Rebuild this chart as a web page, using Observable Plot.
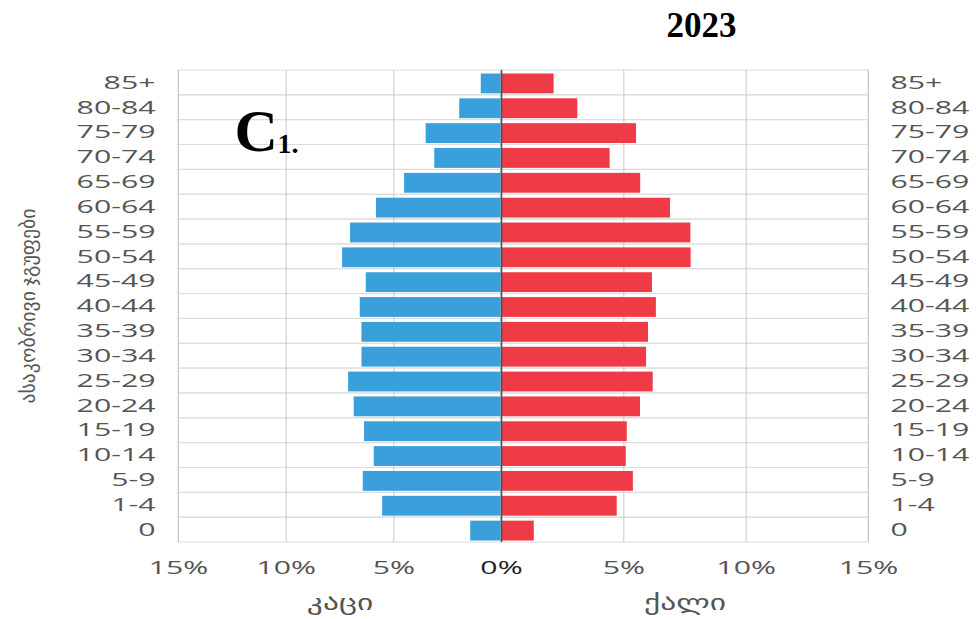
<!DOCTYPE html>
<html><head><meta charset="utf-8">
<script src="https://cdn.jsdelivr.net/npm/d3@7"></script>
<script src="https://cdn.jsdelivr.net/npm/@observablehq/plot@0.6"></script>
<style>
body{margin:0;background:#fff;}
#chart{position:relative;width:976px;height:619px;}
#chart svg{position:absolute;left:0;top:0;}
</style>
</head><body><div id="chart"></div>
<script>
const ageGroups = ["85+","80-84","75-79","70-74","65-69","60-64","55-59","50-54","45-49","40-44","35-39","30-34","25-29","20-24","15-19","10-14","5-9","1-4","0"];
const malePct   = [0.94,1.94,3.50,3.10,4.50,5.81,7.01,7.38,6.28,6.56,6.48,6.48,7.10,6.84,6.36,5.91,6.42,5.52,1.43];
const femalePct = [2.15,3.12,5.52,4.44,5.69,6.91,7.74,7.75,6.17,6.33,6.01,5.93,6.20,5.68,5.14,5.10,5.39,4.73,1.34];
const leftTicks = [-15,-10,-5,0];
const rightTicks = [5,10,15];
const sideLabels = ["კაცი","ქალი"];
const yTitle = "ასაკობრივი ჯგუფები";
const titleText = "2023";
const markC = "C";
const markSub = "1.";

const men = ageGroups.map((a,i)=>({age:a, v:malePct[i]}));
const women = ageGroups.map((a,i)=>({age:a, v:femalePct[i]}));

const common = {
  width: 976, height: 619,
  marginLeft: 178, marginRight: 108, marginTop: 70, marginBottom: 77,
  style: {fontFamily: "'Open Sans', 'DejaVu Sans', sans-serif", fontSize: "18px", color: "#555", background: "transparent"},
  y: {domain: ageGroups, padding: 0, round: false, label: null}
};
const serif = "'Liberation Serif', 'DejaVu Serif', serif";

const leftPlot = Plot.plot({
  ...common,
  x: {domain: [-15, 0], range: [178, 501], label: null},
  marks: [
    Plot.barX(ageGroups, {x1: -15, x2: 0, y: d => d, fill: "none", stroke: "#dcdcdc"}),
    Plot.ruleX(leftTicks.filter(d => d !== 0), {stroke: "#c9c9c9"}),
    Plot.barX(men, {x1: 0, x2: d => -d.v, y: "age", fill: "#3aa0db", insetTop: 3.5, insetBottom: 1.5}),
    Plot.axisY({anchor: "left", tickSize: 0, tickPadding: 23, label: null}),
    Plot.axisX({ticks: leftTicks, tickFormat: d => Math.abs(d) + "%", tickSize: 0, tickPadding: 19, label: null}),
    Plot.text([sideLabels[0]], {x: -7.5, text: d => d, frameAnchor: "bottom", lineAnchor: "middle", dy: 61, fill: "#555", fontSize: 21}),
    Plot.text([yTitle], {text: d => d, frameAnchor: "bottom-left", lineAnchor: "middle", textAnchor: "start", dx: -150, dy: -139, rotate: -90, fill: "#555", fontSize: 20}),
    Plot.text([markC], {text: d => d, frameAnchor: "top-left", lineAnchor: "middle", dx: 56, dy: 61, fontFamily: serif, fontWeight: "bold", fontSize: 60, fill: "#000", textAnchor: "start"}),
    Plot.text([markSub], {text: d => d, frameAnchor: "top-left", lineAnchor: "middle", dx: 99, dy: 74, fontFamily: serif, fontWeight: "bold", fontSize: 28, fill: "#000", textAnchor: "start", letterSpacing: 1.5})
  ]
});

const rightPlot = Plot.plot({
  ...common,
  x: {domain: [0, 15], range: [501, 868], label: null},
  marks: [
    Plot.barX(ageGroups, {x1: 0, x2: 15, y: d => d, fill: "none", stroke: "#dcdcdc"}),
    Plot.ruleX(rightTicks, {stroke: "#c9c9c9"}),
    Plot.barX(women, {x1: 0, x2: "v", y: "age", fill: "#ee3b45", insetTop: 3.5, insetBottom: 1.5}),
    Plot.ruleX([0], {stroke: "#3b5570", strokeWidth: 1.6}),
    Plot.axisY({anchor: "right", tickSize: 0, tickPadding: 22, label: null}),
    Plot.axisX({ticks: rightTicks, tickFormat: d => d + "%", tickSize: 0, tickPadding: 19, label: null}),
    Plot.text([sideLabels[1]], {x: 7.5, text: d => d, frameAnchor: "bottom", lineAnchor: "middle", dy: 61, fill: "#555", fontSize: 21}),
    Plot.text([titleText], {text: d => d, frameAnchor: "top-left", lineAnchor: "middle", dx: 523, dy: -45, fontFamily: serif, fontWeight: "bold", fontSize: 35, fill: "#000", textAnchor: "middle"})
  ]
});

const host = document.getElementById("chart");
host.appendChild(leftPlot);
host.appendChild(rightPlot);

const K = 1.68;
function stretchNode(node, k, fixed) {
  const w = node.getComputedTextLength();
  node.setAttribute("textLength", (fixed || w * k).toFixed(1));
  node.setAttribute("lengthAdjust", "spacingAndGlyphs");
}
for (const svg of [leftPlot, rightPlot]) {
  d3.select(svg).selectAll('g[aria-label$="tick label"] text').each(function(){
    stretchNode(this, K);
    if (this.textContent === "0%") this.setAttribute("fill", "#222");
  });
  d3.select(svg).selectAll('text').each(function(){
    const t = this.textContent;
    if (sideLabels.includes(t)) stretchNode(this, 1.5);
    if (t === yTitle) stretchNode(this, 1, 195);
  });
}
</script>
</body></html>
